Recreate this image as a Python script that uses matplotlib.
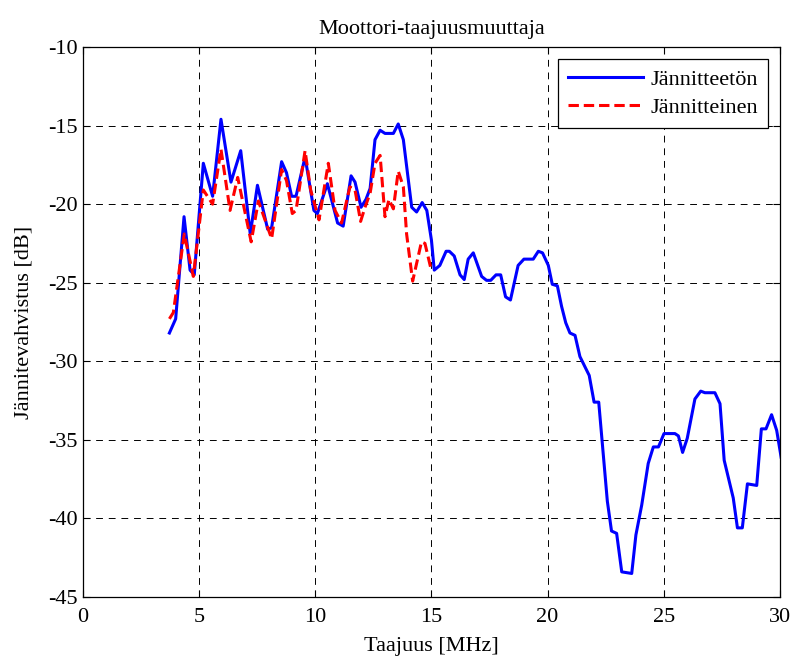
import numpy as np
import matplotlib
matplotlib.use("Agg")
import matplotlib.pyplot as plt

plt.rcParams['font.family'] = ['Liberation Serif', 'DejaVu Serif']
plt.rcParams['axes.unicode_minus'] = False

# Jännitteetön (blue)
blue_f = [3.72, 3.99, 4.35, 4.61, 4.79, 5.18, 5.58, 5.94, 6.37, 6.79, 7.2, 7.51,
          7.95, 8.12, 8.55, 8.76, 8.98, 9.17, 9.56, 9.94, 10.09, 10.52, 10.96, 11.2,
          11.54, 11.71, 11.97, 12.18, 12.36, 12.57, 12.79, 13.0, 13.36, 13.57, 13.79,
          14.15, 14.36, 14.6, 14.8, 15.0, 15.12, 15.36, 15.63, 15.77, 15.98, 16.23,
          16.41, 16.58, 16.8, 17.16, 17.37, 17.55, 17.78, 17.98, 18.19, 18.4, 18.73,
          18.98, 19.38, 19.6, 19.78, 20.03, 20.2, 20.42, 20.6, 20.78, 20.96, 21.18,
          21.39, 21.79, 22.0, 22.2, 22.57, 22.75, 22.97, 23.19, 23.62, 23.8, 24.05,
          24.33, 24.55, 24.77, 25.01, 25.48, 25.63, 25.81, 26.01, 26.34, 26.59, 26.77,
          27.2, 27.42, 27.6, 27.99, 28.17, 28.38, 28.6, 29.0, 29.2, 29.4, 29.64,
          29.86, 30.05]
blue_db = [-28.2, -27.3, -20.8, -24.2, -24.5, -17.4, -19.5, -14.6, -18.6, -16.6, -21.9, -18.8,
           -21.6, -21.5, -17.3, -18.0, -19.5, -19.5, -17.0, -20.4, -20.6, -18.7, -21.2, -21.4,
           -18.2, -18.6, -20.2, -19.7, -19.0, -15.9, -15.3, -15.5, -15.5, -14.9, -15.9,
           -20.2, -20.5, -19.9, -20.4, -22.3, -24.2, -23.9, -23.0, -23.0, -23.3, -24.5,
           -24.8, -23.5, -23.1, -24.6, -24.85, -24.85, -24.5, -24.5, -25.9, -26.1, -23.9,
           -23.5, -23.5, -23.0, -23.1, -23.9, -25.1, -25.2, -26.5, -27.55, -28.2, -28.35,
           -29.7, -30.9, -32.6, -32.6, -38.9, -40.8, -40.95, -43.4, -43.5, -41.05, -39.15,
           -36.5, -35.45, -35.45, -34.6, -34.6, -34.75, -35.8, -34.9, -32.4, -31.9, -32.0,
           -32.0, -32.7, -36.3, -38.7, -40.6, -40.6, -37.8, -37.9, -34.3, -34.3, -33.4,
           -34.4, -36.1]

# Jännitteinen (red)
red_f = [3.72, 3.89, 4.36, 4.75, 5.18, 5.58, 5.94, 6.33, 6.66, 7.24, 7.55, 8.12,
         8.55, 8.76, 9.01, 9.17, 9.56, 9.8, 10.16, 10.56, 10.85, 11.13, 11.49, 11.71,
         11.95, 12.14, 12.36, 12.57, 12.79, 13.0, 13.17, 13.36, 13.57, 13.79, 13.93,
         14.19, 14.57, 14.72, 14.96]
red_db = [-27.3, -26.9, -21.9, -24.6, -19.1, -20.0, -16.5, -20.4, -18.3, -22.4, -19.8, -22.2,
          -17.8, -18.5, -20.6, -20.4, -16.6, -19.1, -21.0, -17.4, -20.4, -21.2, -18.9, -19.1,
          -21.1, -20.2, -19.3, -17.4, -16.9, -20.8, -19.7, -20.3, -17.9, -18.9, -21.9,
          -24.9, -22.4, -22.5, -24.0]

x_ticks = [0, 5, 10, 15, 20, 25, 30]
y_ticks = [-45, -40, -35, -30, -25, -20, -15, -10]

fig = plt.figure(figsize=(7.94, 6.57), dpi=100)
ax = fig.add_axes([0.1045, 0.0913, 0.8778, 0.8372])

ax.plot(blue_f, blue_db, color='#0000ff', lw=2.2, label='Jännitteetön')
ax.plot(red_f, red_db, color='#ff0000', lw=2.2, linestyle=(0, (3.4, 1.6)), label='Jännitteinen')

ax.set_xlim(0, 30)
ax.set_ylim(-45, -10)
ax.set_xticks(x_ticks)
ax.set_yticks(y_ticks)
ax.tick_params(direction='in', top=True, right=True, labelsize=16, length=5, width=0.8)
ax.tick_params(axis='x', pad=8)
ax.tick_params(axis='y', pad=4)
ax.grid(True, color='black', linestyle=(0, (7, 6)), linewidth=0.7)
for s in ax.spines.values():
    s.set_linewidth(0.9)

ax.set_title('Moottori-taajuusmuuttaja', fontsize=16, pad=9)
ax.set_xlabel('Taajuus [MHz]', fontsize=16, labelpad=7)
ax.set_ylabel('Jännitevahvistus [dB]', fontsize=16, labelpad=10)

leg = ax.legend(loc='upper right', fontsize=16, fancybox=False, framealpha=1,
                edgecolor='black', handlelength=3.4, handletextpad=0.3,
                borderpad=0.45, labelspacing=0.35, borderaxespad=0.55)
leg.get_frame().set_linewidth(0.9)

fig.savefig('out.png', dpi=100)
